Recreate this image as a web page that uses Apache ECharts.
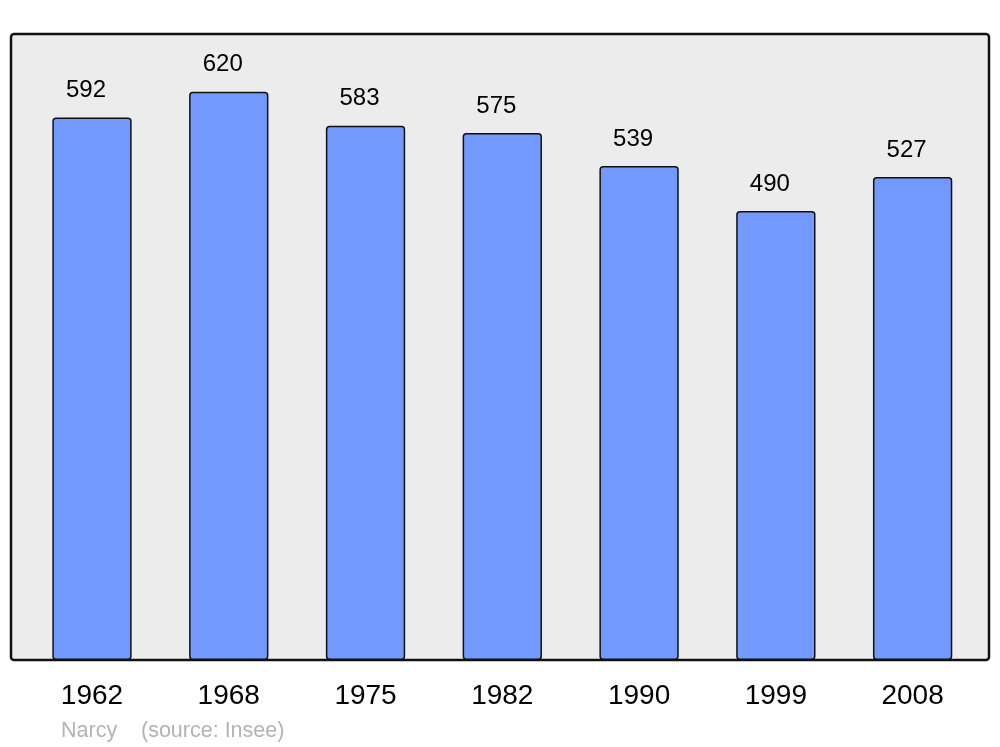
<!DOCTYPE html>
<html><head><meta charset="utf-8">
<script src="https://cdn.jsdelivr.net/npm/echarts@6/dist/echarts.min.js"></script>
<style>html,body{margin:0;padding:0;background:#fff}#c{width:1000px;height:747px}</style>
</head><body><div id="c"></div>
<script>
const years = ['1962','1968','1975','1982','1990','1999','2008'];
const population = [592, 620, 583, 575, 539, 490, 527];
const placeName = 'Narcy';
const sourceText = '(source: Insee)';

const chart = echarts.init(document.getElementById('c'), null, {renderer:'canvas'});
const FONT = '"Liberation Sans", Arial, sans-serif';
chart.setOption({
  animation:false,
  backgroundColor:'#ffffff',
  graphic:[
    {type:'rect', z:-10, shape:{x:11,y:34,width:978,height:626,r:3},
     style:{fill:'#ececec', stroke:'#111', lineWidth:2.5}},
    {type:'text', left:61, top:720, style:{text:placeName, fill:'#b3b3b3', font:'21.5px '+FONT}},
    {type:'text', left:141, top:720, style:{text:sourceText, fill:'#b3b3b3', font:'21.5px '+FONT}}
  ],
  grid:{left:23.6, right:19, top:34, bottom:87, containLabel:false},
  xAxis:{type:'category', data:years,
    axisLine:{show:false}, axisTick:{show:false},
    axisLabel:{color:'#000', fontSize:28, fontFamily:FONT, margin:22}},
  yAxis:{type:'value', min:0, max:683, show:false, splitLine:{show:false}},
  series:[{type:'bar', data:population, barWidth:'58%',
    itemStyle:{color:'#7399ff', borderColor:'#111', borderWidth:1.5, borderRadius:3},
    label:{show:true, position:'top', distance:15, offset:[-6,0], color:'#000', fontSize:24, fontFamily:FONT}}]
});
</script></body></html>
